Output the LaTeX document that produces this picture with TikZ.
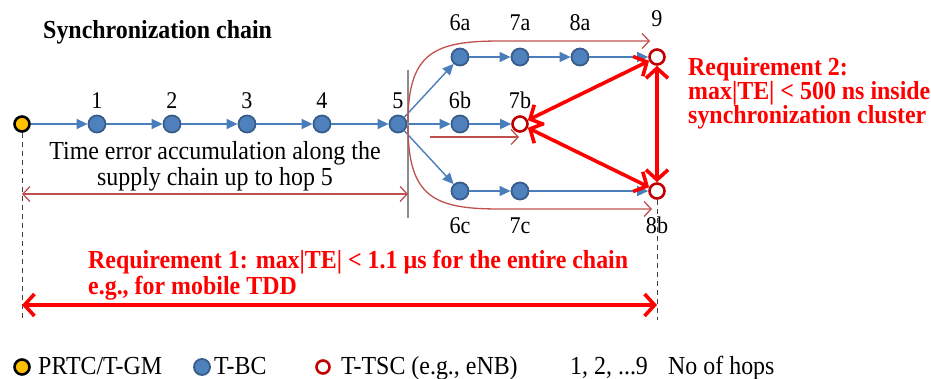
\documentclass[tikz,border=0pt]{standalone}
\usepackage{fontspec}
\setmainfont[FakeStretch=0.92]{Liberation Serif}
\usetikzlibrary{arrows.meta}
\definecolor{tbcfillc}{HTML}{4F81BD}
\definecolor{tbcdrawc}{HTML}{385D8A}
\definecolor{bluelinec}{HTML}{4A7EBB}
\definecolor{tscredc}{HTML}{C00000}
\definecolor{gmyellowc}{HTML}{FFC000}
\definecolor{thinredc}{HTML}{C0504D}
\definecolor{reqred}{HTML}{FF0000}
\tikzset{
  tbc/.style={circle, fill=tbcfillc, draw=tbcdrawc, line width=1.8pt, minimum size=17pt, inner sep=0pt},
  tsc/.style={circle, fill=white, draw=tscredc, line width=2.6pt, minimum size=15pt, inner sep=0pt},
  gmnode/.style={circle, fill=gmyellowc, draw=black, line width=2.6pt, minimum size=15pt, inner sep=0pt},
  blarrow/.style={draw=bluelinec, line width=1.4pt, -{Triangle[length=11pt,width=10pt]}},
  thinarrow/.style={draw=thinredc, line width=1.3pt, -{Straight Barb[length=7pt,width=15pt,line width=1.3pt]}},
  thindbl/.style={draw=thinredc, line width=1.3pt, {Straight Barb[length=7pt,width=15pt,line width=1.3pt]}-{Straight Barb[length=7pt,width=15pt,line width=1.3pt]}},
  thickdbl/.style={draw=reqred, line width=3.6pt, {Straight Barb[length=10pt,width=22pt]}-{Straight Barb[length=10pt,width=22pt]}},
  hoplabel/.style={font=\fontsize{24}{26}\selectfont, inner sep=0pt, anchor=base},
  bodytext/.style={font=\fontsize{26}{28}\selectfont, inner sep=0pt, anchor=base},
  reqtext/.style={font=\fontsize{26}{28}\selectfont\bfseries, text=reqred, inner sep=0pt, anchor=base west},
  legtext/.style={font=\fontsize{26}{28}\selectfont, inner sep=0pt, anchor=base west},
  dashline/.style={draw=black!75, line width=1pt, dash pattern=on 5pt off 4pt},
}
\begin{document}
\begin{tikzpicture}[x=1pt,y=-1pt]
\useasboundingbox (0,0) rectangle (931,378);
% title
\node[font=\fontsize{26}{28}\selectfont\bfseries, inner sep=0pt, anchor=base west] (title) at (43,38) {Synchronization chain};
% nodes
\node[gmnode] (gm) at (22,124) {};
\node[tbc] (n1) at (97,124) {};
\node[tbc] (n2) at (172,124) {};
\node[tbc] (n3) at (247,124) {};
\node[tbc] (n4) at (322,124) {};
\node[tbc] (n5) at (398,124) {};
\node[tbc] (n6a) at (460,57) {};
\node[tbc] (n7a) at (520,57) {};
\node[tbc] (n8a) at (580,57) {};
\node[tsc] (n9) at (657,57) {};
\node[tbc] (n6b) at (460,124) {};
\node[tsc] (n7b) at (520,124) {};
\node[tbc] (n6c) at (460,191) {};
\node[tbc] (n7c) at (520,191) {};
\node[tsc] (n8b) at (657,191) {};
% hop labels
\node[hoplabel] (l1) at (97,108) {1};
\node[hoplabel] (l2) at (172,108) {2};
\node[hoplabel] (l3) at (247,108) {3};
\node[hoplabel] (l4) at (322,108) {4};
\node[hoplabel] (l5) at (398,108) {5};
\node[hoplabel] (l6a) at (460,30) {6a};
\node[hoplabel] (l7a) at (520,30) {7a};
\node[hoplabel] (l8a) at (580,30) {8a};
\node[hoplabel] (l9) at (657,26) {9};
\node[hoplabel] (l6b) at (460,108) {6b};
\node[hoplabel] (l7b) at (520,108) {7b};
\node[hoplabel] (l6c) at (460,233) {6c};
\node[hoplabel] (l7c) at (520,233) {7c};
\node[hoplabel] (l8b) at (657,233) {8b};
% blue arrows
\draw[blarrow] (gm) -- (n1);
\draw[blarrow] (n1) -- (n2);
\draw[blarrow] (n2) -- (n3);
\draw[blarrow] (n3) -- (n4);
\draw[blarrow] (n4) -- (n5);
\draw[blarrow] (n5) -- (n6a);
\draw[blarrow] (n5) -- (n6b);
\draw[blarrow] (n5) -- (n6c);
\draw[blarrow] (n6a) -- (n7a);
\draw[blarrow] (n7a) -- (n8a);
\draw[blarrow] (n8a) -- (n9);
\draw[blarrow] (n6b) -- (n7b);
\draw[blarrow] (n6c) -- (n7c);
\draw[blarrow] (n7c) -- (n8b);
% gray divider and dashed lines
\coordinate (gtop) at (408,70);
\coordinate (gbot) at (408,218);
\draw[draw=black!45, line width=1.3pt] (gtop) -- (gbot);
\coordinate (dl) at (22,320);
\coordinate (dr) at (657,320);
\draw[dashline] (gm.south) -- (dl);
\draw[dashline] (n8b.south) -- (dr);
% thin red arrows
\coordinate (ca) at (408,122);
\coordinate (cat) at (650,41);
\coordinate (cb) at (408,126);
\coordinate (cbt) at (652,209);
\coordinate (cm) at (430,137);
\coordinate (cmt) at (519,137);
\draw[thinarrow] (ca) .. controls (408,52) and (435,41) .. (500,41) -- (cat);
\draw[thinarrow] (cb) .. controls (408,198) and (435,209) .. (500,209) -- (cbt);
\draw[thinarrow] (cm) -- (cmt);
\coordinate (al) at (22,194);
\coordinate (ar) at (408,194);
\draw[thindbl] (al) -- (ar);
% thick red arrows
\draw[thickdbl] (n9) -- (n7b);
\draw[thickdbl] (n7b) -- (n8b);
\draw[thickdbl] (n9) -- (n8b);
\coordinate (rl) at (22,305);
\coordinate (rr) at (657,305);
\draw[thickdbl] (rl) -- (rr);
% texts
\node[bodytext] (acc1) at (215,159) {Time error accumulation along the};
\node[bodytext] (acc2) at (215,185) {supply chain up to hop 5};
\node[reqtext] (req2a) at (688,75) {Requirement 2:};
\node[reqtext] (req2b) at (688,99) {max|TE| {\textless} 500 ns inside};
\node[reqtext] (req2c) at (688,123) {synchronization cluster};
\node[reqtext] (req1a) at (88,268) {Requirement 1: max|TE| {\textless} 1.1 µs for the entire chain};
\node[reqtext] (req1b) at (88,294) {e.g., for mobile TDD};
% legend
\node[gmnode, minimum size=15pt] (lgm) at (22,367) {};
\node[legtext] (tgm) at (38,374) {PRTC/T-GM};
\node[tbc, minimum size=16pt] (ltbc) at (202,367) {};
\node[legtext] (ttbc) at (214,374) {T-BC};
\node[tsc, minimum size=13pt] (ltsc) at (323,367) {};
\node[legtext] (ttsc) at (341,374) {T-TSC (e.g., eNB)};
\node[legtext] (thop) at (570,374) {1, 2, ...9};
\node[legtext] (tno) at (668,374) {No of hops};
\end{tikzpicture}
\end{document}
